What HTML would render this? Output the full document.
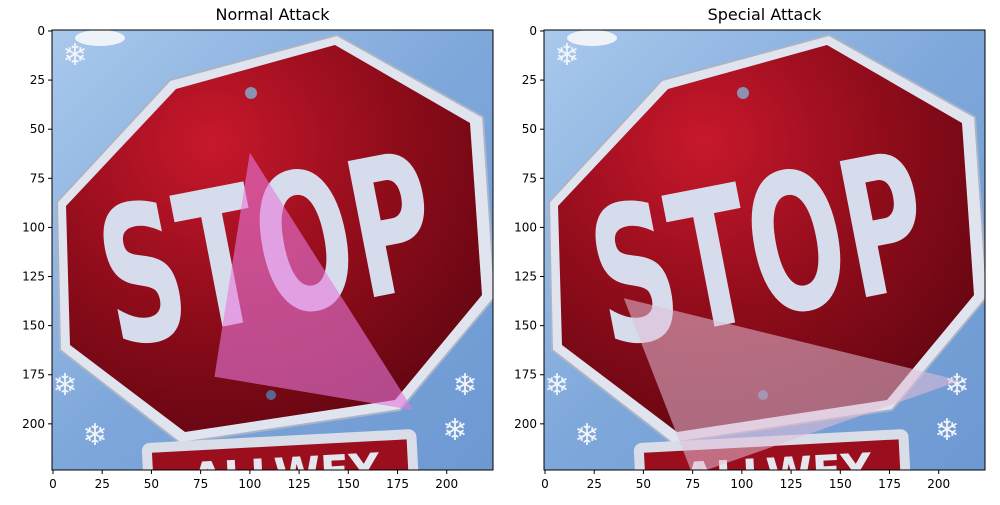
<!DOCTYPE html>
<html><head><meta charset="utf-8">
<style>
body{margin:0;background:#fff;width:1000px;height:500px;overflow:hidden;font-family:"Liberation Sans","DejaVu Sans",sans-serif}
svg text{font-family:"DejaVu Sans","Liberation Sans",sans-serif}
</style></head>
<body>
<svg id="fig" width="1000" height="500" viewBox="0 0 1000 500" xmlns="http://www.w3.org/2000/svg">
<defs>
<linearGradient id="sky" x1="0" y1="0" x2="1" y2="1"><stop offset="0" stop-color="#a9c9ec"/><stop offset="0.5" stop-color="#7ea7da"/><stop offset="1" stop-color="#6d98d2"/></linearGradient>
<radialGradient id="red" cx="0.35" cy="0.25" r="0.9"><stop offset="0" stop-color="#c8182c"/><stop offset="0.5" stop-color="#8e0c1a"/><stop offset="1" stop-color="#5a0410"/></radialGradient>
<clipPath id="clipL"><rect x="52" y="30" width="441" height="440"/></clipPath>
<clipPath id="clipR"><rect x="544" y="30" width="441" height="440"/></clipPath>
</defs>
</svg>
<script>
const xTicks=[0,25,50,75,100,125,150,175,200];
const yTicks=[0,25,50,75,100,125,150,175,200];
const titles=["Normal Attack","Special Attack"];
const triNormalX=[100,82,183];
const triNormalY=[62,176,193];
const triSpecialX=[40,75,211];
const triSpecialY=[136,226,178];
const triColors=["rgba(230,120,220,0.6)","rgba(225,190,215,0.55)"];
const NS="http://www.w3.org/2000/svg";
const svg=document.getElementById('fig');
const axes=[{x0:52,y0:30,clip:'clipL'},{x0:544,y0:30,clip:'clipR'}];
const W=441,H=440,N=224;
function mk(t,a,p){const e=document.createElementNS(NS,t);for(const k in a)e.setAttribute(k,a[k]);(p||svg).appendChild(e);return e;}
function sx(ax,v){return ax.x0+(v+0.5)*W/N;}
function sy(ax,v){return ax.y0+(v+0.5)*H/N;}
axes.forEach((ax,i)=>{
  const g=mk('g',{'clip-path':'url(#'+ax.clip+')'});
  
  
  const c=mk('g',{transform:'translate('+(ax.x0-52)+',0)'},g);
  mk('rect',{x:52,y:30,width:W,height:H,fill:'url(#sky)'},c);
  mk('ellipse',{cx:100,cy:38,rx:25,ry:8,fill:'#eef3fa'},c);
  mk('polygon',{points:'170,80 337,35 483,117 495,297 400,410 180,443 60,350 57,202',fill:'#dfe4ee',stroke:'#aab4c6','stroke-width':2},c);
  mk('polygon',{points:'176,89 335,45 470,123 482,295 395,400 185,432 70,345 66,206',fill:'url(#red)'},c);
  mk('circle',{cx:251,cy:93,r:6,fill:'#8a92b0'},c);
  mk('circle',{cx:271,cy:395,r:5,fill:'#5a6690'},c);
  const t=mk('text',{x:100,y:318,'font-size':190,'font-weight':'bold',fill:'#d6dcec',transform:'rotate(-11 260 250)',textLength:335,lengthAdjust:'spacingAndGlyphs','font-family':'Liberation Sans Narrow, Liberation Sans, sans-serif'},c);
  t.textContent='STOP';
  
  
  mk('rect',{x:142,y:436,width:275,height:70,rx:8,fill:'#d8dde8',transform:'rotate(-3 280 450)'},c);
  mk('rect',{x:152,y:446,width:255,height:60,fill:'#9a0e1e',transform:'rotate(-3 280 450)'},c);
  const t2=mk('text',{x:190,y:488,'font-size':42,'font-weight':'bold',fill:'#e6e6ee','font-family':'Liberation Sans, sans-serif',transform:'rotate(-3 280 450)'},c);
  t2.textContent='ALLWEY';
  
  
  [[75,65],[65,395],[95,445],[465,395],[455,440]].forEach(p=>{
    const s=mk('text',{x:p[0],y:p[1],'font-size':30,fill:'#f2f4fa','text-anchor':'middle'},c);s.textContent='❄';
    
    
  });
  const tx=i?triSpecialX:triNormalX, ty=i?triSpecialY:triNormalY;
  const pts=tx.map((v,k)=>sx(ax,v)+','+sy(ax,ty[k])).join(' ');
  const tri=mk('polygon',{points:pts,fill:triColors[i]},g);
  
  
  const fr=mk('rect',{x:ax.x0,y:ax.y0,width:W,height:H,fill:'none',stroke:'#000','stroke-width':1});
  
  
  const tt=mk('text',{x:ax.x0+W/2,y:20,'font-size':16,'text-anchor':'middle'});
  tt.textContent=titles[i];
  
  
  xTicks.forEach(v=>{
    const x=sx(ax,v);
    mk('line',{x1:x,x2:x,y1:ax.y0+H,y2:ax.y0+H+4,stroke:'#000'});
    const l=mk('text',{x:x,y:ax.y0+H+18,'font-size':12,'text-anchor':'middle'});
    l.textContent=v;
    
    
  });
  yTicks.forEach(v=>{
    const y=sy(ax,v);
    mk('line',{x1:ax.x0-4,x2:ax.x0,y1:y,y2:y,stroke:'#000'});
    const l=mk('text',{x:ax.x0-7,y:y+4,'font-size':12,'text-anchor':'end'});
    l.textContent=v;
    
    
  });
});
</script>
</body></html>
